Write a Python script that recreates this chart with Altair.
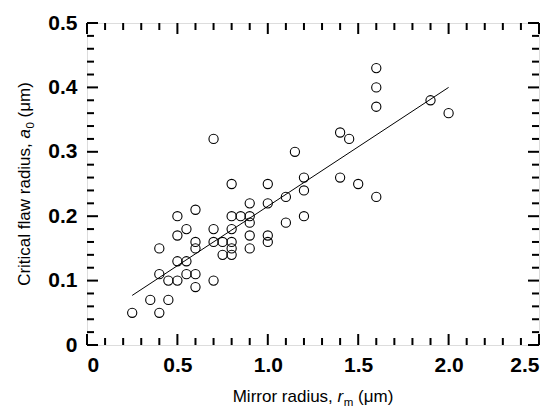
import altair as alt
import pandas as pd

# ---- data ----
r_m = [0.25, 0.35, 0.40, 0.40, 0.40, 0.45, 0.45, 0.50, 0.50, 0.50, 0.50,
       0.55, 0.55, 0.55, 0.60, 0.60, 0.60, 0.60, 0.60, 0.70, 0.70, 0.70, 0.70,
       0.75, 0.75, 0.80, 0.80, 0.80, 0.80, 0.80, 0.80, 0.85,
       0.90, 0.90, 0.90, 0.90, 0.90, 1.00, 1.00, 1.00, 1.00,
       1.10, 1.10, 1.15, 1.20, 1.20, 1.20, 1.40, 1.40, 1.45, 1.50,
       1.60, 1.60, 1.60, 1.60, 1.90, 2.00]
a_0 = [0.05, 0.07, 0.05, 0.11, 0.15, 0.07, 0.10, 0.10, 0.13, 0.17, 0.20,
       0.11, 0.13, 0.18, 0.09, 0.11, 0.15, 0.16, 0.21, 0.10, 0.16, 0.18, 0.32,
       0.14, 0.16, 0.14, 0.15, 0.16, 0.18, 0.20, 0.25, 0.20,
       0.15, 0.17, 0.19, 0.20, 0.22, 0.16, 0.17, 0.22, 0.25,
       0.19, 0.23, 0.30, 0.20, 0.24, 0.26, 0.26, 0.33, 0.32, 0.25,
       0.23, 0.37, 0.40, 0.43, 0.38, 0.36]
fit_x = [0.25, 2.00]
fit_y = [0.077, 0.400]

x_major = [0, 0.5, 1.0, 1.5, 2.0, 2.5]
x_minor = [0.1, 0.2, 0.3, 0.4, 0.6, 0.7, 0.8, 0.9, 1.1, 1.2, 1.3, 1.4,
           1.6, 1.7, 1.8, 1.9, 2.1, 2.2, 2.3, 2.4]
y_major = [0, 0.1, 0.2, 0.3, 0.4, 0.5]
y_minor = [0.02, 0.04, 0.06, 0.08, 0.12, 0.14, 0.16, 0.18, 0.22, 0.24,
           0.26, 0.28, 0.32, 0.34, 0.36, 0.38, 0.42, 0.44, 0.46, 0.48]

W, H = 452, 322
FONT = "Liberation Sans"
TFS = 17      # axis title size
SFS = 11.5    # subscript size
LFS = 21      # tick label size

xs = alt.Scale(domain=[0, 2.5], nice=False, zero=False)
ys = alt.Scale(domain=[0, 0.5], nice=False, zero=False)

pts = pd.DataFrame({"r": r_m, "a": a_0})
fit = pd.DataFrame({"r": fit_x, "a": fit_y})

points = alt.Chart(pts).mark_point(
    shape="circle", filled=False, color="black", strokeWidth=1.1, size=85, opacity=1
).encode(
    x=alt.X("r:Q", scale=xs, axis=alt.Axis(
        values=x_major, labelExpr="datum.value == 0 ? '0' : format(datum.value, '.1f')",
        ticks=False, domain=False, grid=False, title=None,
        labelFont=FONT, labelFontSize=LFS, labelFontWeight="bold", labelColor="black",
        labelPadding=9)),
    y=alt.Y("a:Q", scale=ys, axis=alt.Axis(
        values=y_major, labelExpr="datum.value == 0 ? '0' : format(datum.value, '.1f')",
        ticks=False, domain=False, grid=False, title=None,
        labelFont=FONT, labelFontSize=LFS, labelFontWeight="bold", labelColor="black",
        labelPadding=10)),
)

line = alt.Chart(fit).mark_line(color="black", strokeWidth=1).encode(
    x=alt.X("r:Q", scale=xs), y=alt.Y("a:Q", scale=ys))

def xticks(vals, length, side):
    df = pd.DataFrame({"v": vals})
    if side == "bottom":
        y0, y1 = H, H - length
    else:
        y0, y1 = 0, length
    return alt.Chart(df).mark_rule(color="black", strokeWidth=2).encode(
        x=alt.X("v:Q", scale=xs), y=alt.value(y0), y2=alt.value(y1))

def yticks(vals, length, side):
    df = pd.DataFrame({"v": vals})
    if side == "left":
        x0, x1 = 0, length
    else:
        x0, x1 = W, W - length
    return alt.Chart(df).mark_rule(color="black", strokeWidth=2).encode(
        y=alt.Y("v:Q", scale=ys), x=alt.value(x0), x2=alt.value(x1))

MAJ, MIN = 11, 7
ticks = [xticks(x_major, MAJ, "bottom"), xticks(x_minor, MIN, "bottom"),
         xticks(x_major, MAJ, "top"), xticks(x_minor, MIN, "top"),
         yticks(y_major, MAJ, "left"), yticks(y_minor, MIN, "left"),
         yticks(y_major, MAJ, "right"), yticks(y_minor, MIN, "right")]

# ---- axis titles with italic symbol and subscript ----
AW = {"M": 833, "i": 222, "r": 333, "o": 556, " ": 278, "a": 556, "d": 556,
      "u": 556, "s": 500, ",": 278, "(": 333, ")": 333, "μ": 576, "m": 833,
      "C": 722, "t": 278, "c": 500, "l": 222, "f": 278, "w": 722, "0": 556}

def width(s, size):
    return sum(AW.get(ch, 556) for ch in s) * size / 1000.0

def title_parts(parts):
    # parts: (text, size, italic, baseline shift, gap before)
    out, pos = [], 0.0
    for text, size, italic, shift, gap in parts:
        pos += gap
        out.append((text, size, italic, shift, pos))
        pos += width(text, size)
    return out, pos

SP = 0.278 * TFS
x_title = [("Mirror radius,", TFS, False, 0, 0), ("r", TFS, True, 0, SP),
           ("m", SFS, False, 4, 0.5), ("(μm)", TFS, False, 0, SP)]
y_title = [("Critical flaw radius,", TFS, False, 0, 0), ("a", TFS, True, 0, SP),
           ("0", SFS, False, 4, 0.5), ("(μm)", TFS, False, 0, SP)]

texts = []
parts, total = title_parts(x_title)
x_start = W / 2 - total / 2
XBASE = H + 57
for text, size, italic, shift, pos in parts:
    texts.append(alt.Chart(pd.DataFrame({"t": [text]})).mark_text(
        font=FONT, fontSize=size, fontStyle="italic" if italic else "normal",
        align="left", baseline="alphabetic", color="black").encode(
        text="t:N", x=alt.value(x_start + pos), y=alt.value(XBASE + shift)))

parts, total = title_parts(y_title)
y_start = H / 2 + total / 2
YBASE = -57
for text, size, italic, shift, pos in parts:
    texts.append(alt.Chart(pd.DataFrame({"t": [text]})).mark_text(
        font=FONT, fontSize=size, fontStyle="italic" if italic else "normal",
        align="left", baseline="alphabetic", angle=270, color="black").encode(
        text="t:N", x=alt.value(YBASE + shift), y=alt.value(y_start - pos)))

chart = alt.layer(points, line, *ticks, *texts).properties(
    width=W, height=H,
    autosize=alt.AutoSizeParams(type="none"),
    padding={"left": 87, "top": 23, "right": 17, "bottom": 62},
).configure_view(stroke="black", strokeWidth=2).configure(background="white")

chart.save("out.html", embed_options={"renderer": "svg", "actions": False})
